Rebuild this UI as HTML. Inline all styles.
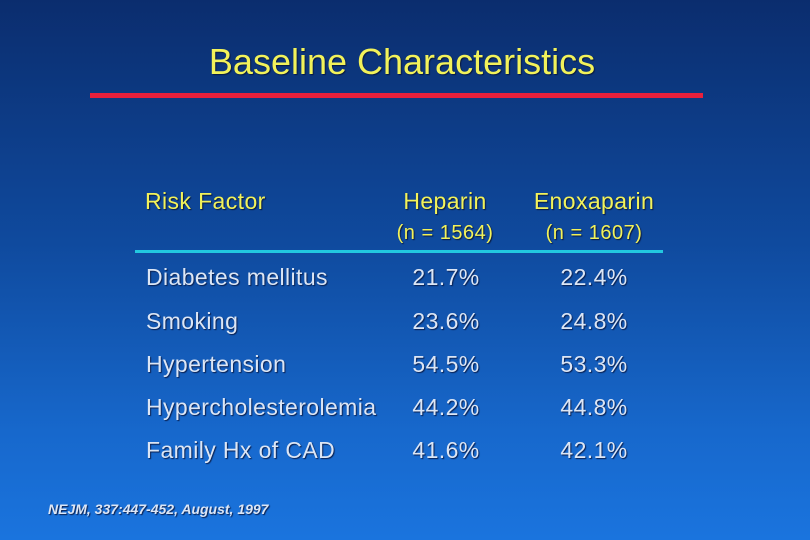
<!DOCTYPE html>
<html><head><style>
body{margin:0}
#s{position:relative;width:810px;height:540px;overflow:hidden;background:linear-gradient(to bottom,#0b2d6e 0%,#0f4a9e 45%,#1768cc 80%,#1a74de 100%);font-family:"Liberation Sans",sans-serif}
.t{position:absolute;white-space:nowrap;line-height:1;letter-spacing:0.4px}
.y{color:#f2f25a;text-shadow:1px 1px 1px #0a1a40}
.w{color:#dce6f5;text-shadow:1px 1px 1px #0a2050;font-size:23px}
.c{transform:translateX(-50%)}
</style></head><body><div id="s">
<div class="t y c" style="left:402px;top:44px;font-size:36px;letter-spacing:0">Baseline Characteristics</div>
<div style="position:absolute;left:90px;top:93px;width:613px;height:5px;background:#e8203c"></div>
<div class="t y" style="left:145px;top:190px;font-size:23px">Risk Factor</div>
<div class="t y c" style="left:445px;top:190px;font-size:23px">Heparin</div>
<div class="t y c" style="left:594px;top:190px;font-size:23px">Enoxaparin</div>
<div class="t y c" style="left:445px;top:223px;font-size:20px;letter-spacing:0.5px">(n = 1564)</div>
<div class="t y c" style="left:594px;top:223px;font-size:20px;letter-spacing:0.5px">(n = 1607)</div>
<div style="position:absolute;left:135px;top:250px;width:528px;height:3px;background:#22c8e0"></div>
<div class="t w" style="left:146px;top:266px">Diabetes mellitus</div>
<div class="t w c" style="left:446px;top:266px">21.7%</div>
<div class="t w c" style="left:594px;top:266px">22.4%</div>
<div class="t w" style="left:146px;top:310px">Smoking</div>
<div class="t w c" style="left:446px;top:310px">23.6%</div>
<div class="t w c" style="left:594px;top:310px">24.8%</div>
<div class="t w" style="left:146px;top:353px">Hypertension</div>
<div class="t w c" style="left:446px;top:353px">54.5%</div>
<div class="t w c" style="left:594px;top:353px">53.3%</div>
<div class="t w" style="left:146px;top:396px">Hypercholesterolemia</div>
<div class="t w c" style="left:446px;top:396px">44.2%</div>
<div class="t w c" style="left:594px;top:396px">44.8%</div>
<div class="t w" style="left:146px;top:439px">Family Hx of CAD</div>
<div class="t w c" style="left:446px;top:439px">41.6%</div>
<div class="t w c" style="left:594px;top:439px">42.1%</div>
<div class="t w" style="left:48px;top:502px;font-size:14px;font-style:italic;font-weight:bold;letter-spacing:0">NEJM, 337:447-452, August, 1997</div>
</div></body></html>
